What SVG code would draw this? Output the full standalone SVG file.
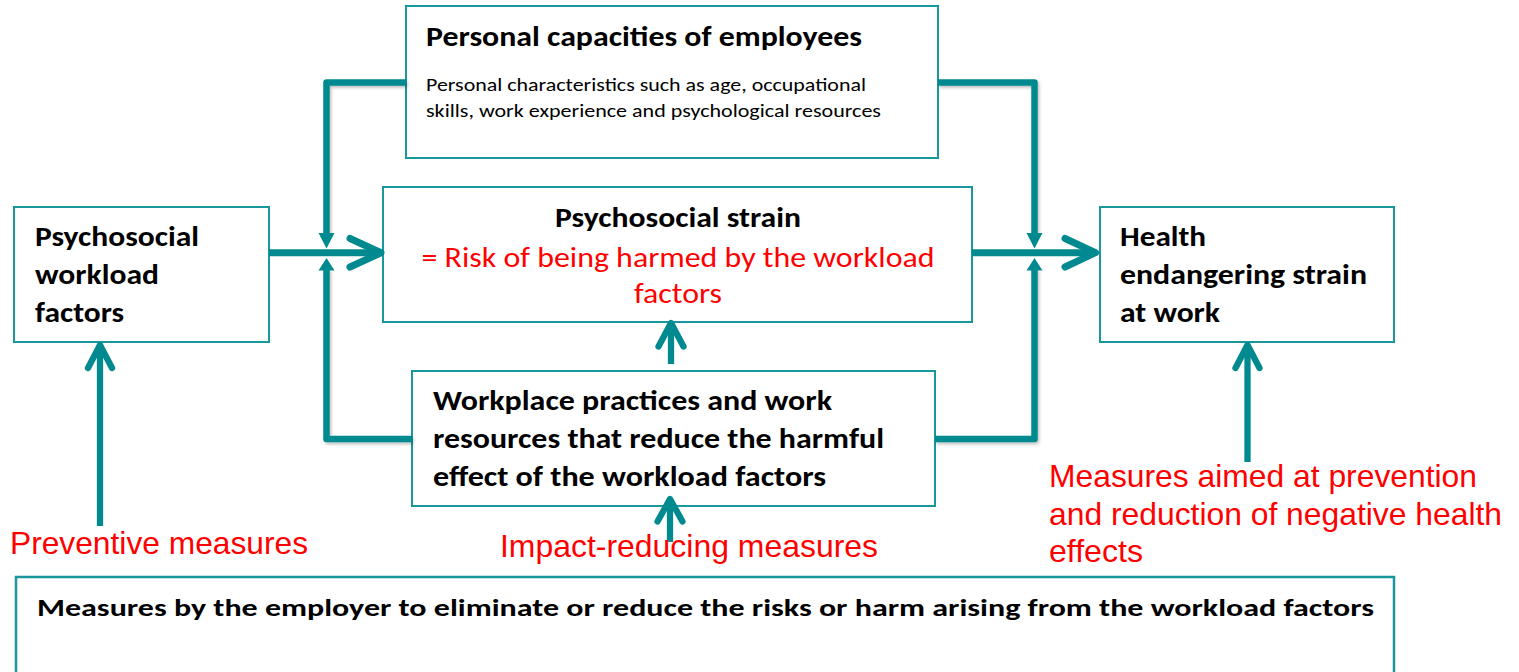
<svg xmlns="http://www.w3.org/2000/svg" width="1519" height="672" viewBox="0 0 1519 672">
  <style>
    .box { fill: #ffffff; stroke: #18989C; stroke-width: 2; }
    .hd { font-family: Carlito, Lato, "Open Sans", sans-serif; font-weight: 700; font-size: 28px; fill: #000000; }
    .sm { font-family: Carlito, Lato, "Open Sans", sans-serif; font-size: 19px; fill: #000000; }
    .rc { font-family: Carlito, Lato, "Open Sans", sans-serif; font-size: 28.5px; fill: #FF0000; }
    .ra { font-family: "Liberation Sans", Arial, sans-serif; font-size: 31.5px; fill: #FF0000; }
    .bt { font-family: Carlito, Lato, "Open Sans", sans-serif; font-weight: 700; font-size: 23.5px; fill: #000000; }
    .wire { fill: none; stroke: #008A8F; stroke-width: 6.5; stroke-linejoin: round; }
    .main { fill: none; stroke: #008A8F; stroke-width: 7; stroke-linecap: round; stroke-linejoin: round; }
    .up { fill: none; stroke: #008A8F; stroke-width: 6.3; stroke-linecap: round; stroke-linejoin: round; }
    .tri { fill: #008A8F; }
  </style>
  <defs>
    <filter id="soft" x="-10%" y="-10%" width="130%" height="130%">
      <feDropShadow dx="1.5" dy="2" stdDeviation="1.5" flood-color="#000000" flood-opacity="0.25"/>
    </filter>
  </defs>

  <!-- boxes -->
  <g id="personal-capacities">
    <rect class="box" x="406" y="6" width="532" height="152"/>
    <text class="hd" x="426" y="46" textLength="436" lengthAdjust="spacingAndGlyphs">Personal capacities of employees</text>
    <text class="sm" x="426" y="91" textLength="440" lengthAdjust="spacingAndGlyphs">Personal characteristics such as age, occupational</text>
    <text class="sm" x="426" y="117" textLength="455" lengthAdjust="spacingAndGlyphs">skills, work experience and psychological resources</text>
  </g>

  <g id="psychosocial-strain">
    <rect class="box" x="383" y="187" width="589" height="135"/>
    <text class="hd" x="678" y="227" text-anchor="middle" textLength="246" lengthAdjust="spacingAndGlyphs">Psychosocial strain</text>
    <text class="rc" x="678" y="267" text-anchor="middle" textLength="513" lengthAdjust="spacingAndGlyphs">= Risk of being harmed by the workload</text>
    <text class="rc" x="678" y="303" text-anchor="middle" textLength="88" lengthAdjust="spacingAndGlyphs">factors</text>
  </g>

  <g id="workload-factors">
    <rect class="box" x="14" y="207" width="255" height="135"/>
    <text class="hd" x="35" y="246" textLength="164" lengthAdjust="spacingAndGlyphs">Psychosocial</text>
    <text class="hd" x="35" y="284" textLength="124" lengthAdjust="spacingAndGlyphs">workload</text>
    <text class="hd" x="35" y="322" textLength="89" lengthAdjust="spacingAndGlyphs">factors</text>
  </g>

  <g id="health-strain">
    <rect class="box" x="1100" y="207" width="294" height="135"/>
    <text class="hd" x="1120" y="246" textLength="86" lengthAdjust="spacingAndGlyphs">Health</text>
    <text class="hd" x="1120" y="284" textLength="247" lengthAdjust="spacingAndGlyphs">endangering strain</text>
    <text class="hd" x="1120" y="322" textLength="100" lengthAdjust="spacingAndGlyphs">at work</text>
  </g>

  <g id="workplace-practices">
    <rect class="box" x="412" y="371" width="523" height="135"/>
    <text class="hd" x="433" y="410" textLength="399" lengthAdjust="spacingAndGlyphs">Workplace practices and work</text>
    <text class="hd" x="433" y="448" textLength="451" lengthAdjust="spacingAndGlyphs">resources that reduce the harmful</text>
    <text class="hd" x="433" y="486" textLength="393" lengthAdjust="spacingAndGlyphs">effect of the workload factors</text>
  </g>

  <g id="employer-measures">
    <rect class="box" x="16" y="577" width="1378" height="120" style="stroke-width:2.5"/>
    <text class="bt" x="37" y="616" textLength="1337" lengthAdjust="spacingAndGlyphs">Measures by the employer to eliminate or reduce the risks or harm arising from the workload factors</text>
  </g>

  <!-- connectors -->
  <g id="connectors">
    <!-- elbows feeding into the main flow -->
    <g filter="url(#soft)">
      <path class="wire" d="M406,82.5 H326.5 V234"/>
      <path class="wire" d="M412,439 H326.5 V269"/>
      <path class="wire" d="M938,82.5 H1034.5 V234"/>
      <path class="wire" d="M935,439 H1034.5 V269"/>
    </g>
    <polygon class="tri" points="318.5,233 334.5,233 326.5,248.5"/>
    <polygon class="tri" points="318.5,270.5 334.5,270.5 326.5,258"/>
    <polygon class="tri" points="1026.5,233 1042.5,233 1034.5,248.5"/>
    <polygon class="tri" points="1026.5,270.5 1042.5,270.5 1034.5,258"/>

    <!-- main horizontal flow -->
    <line class="main" x1="269" y1="252.7" x2="378" y2="252.7" style="stroke-linecap:butt"/>
    <polyline class="main" points="350,238.5 381,252.7 350,267"/>
    <line class="main" x1="972" y1="252.7" x2="1092" y2="252.7" style="stroke-linecap:butt"/>
    <polyline class="main" points="1065,238.5 1095.5,252.7 1065,267"/>

    <!-- upward arrows -->
    <line class="up" x1="671" y1="364" x2="671" y2="325" style="stroke-linecap:butt"/>
    <polyline class="up" points="658.5,346.5 671,323 683.5,346.5"/>

    <line class="up" x1="670" y1="542" x2="670" y2="500" style="stroke-linecap:butt"/>
    <polyline class="up" points="657.5,521.5 670,499 682.5,521.5"/>

    <line class="up" x1="100" y1="526" x2="100" y2="346" style="stroke-linecap:butt"/>
    <polyline class="up" points="88,368 100,345 112,368"/>

    <line class="up" x1="1247.5" y1="462" x2="1247.5" y2="346" style="stroke-linecap:butt"/>
    <polyline class="up" points="1235.5,368 1247.5,345 1259.5,368"/>
  </g>

  <!-- measure labels -->
  <g id="label-preventive">
    <text class="ra" x="10" y="554" textLength="298" lengthAdjust="spacingAndGlyphs">Preventive measures</text>
  </g>
  <g id="label-impact">
    <text class="ra" x="500" y="557" textLength="378" lengthAdjust="spacingAndGlyphs">Impact-reducing measures</text>
  </g>
  <g id="label-health">
    <text class="ra" x="1049" y="487" textLength="428" lengthAdjust="spacingAndGlyphs">Measures aimed at prevention</text>
    <text class="ra" x="1049" y="525" textLength="453" lengthAdjust="spacingAndGlyphs">and reduction of negative health</text>
    <text class="ra" x="1049" y="562" textLength="94" lengthAdjust="spacingAndGlyphs">effects</text>
  </g>
</svg>
